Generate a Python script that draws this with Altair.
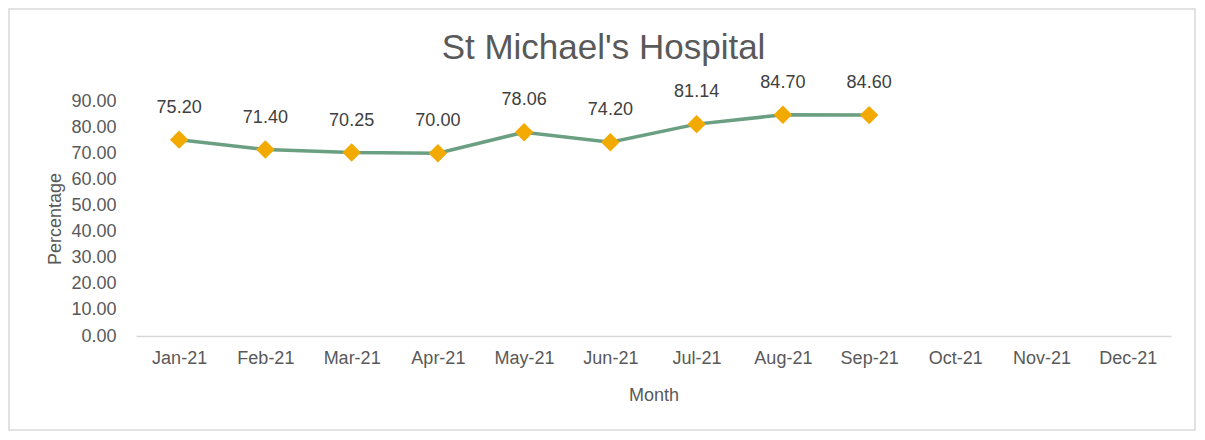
import altair as alt
import pandas as pd

months = ["Jan-21", "Feb-21", "Mar-21", "Apr-21", "May-21", "Jun-21",
          "Jul-21", "Aug-21", "Sep-21", "Oct-21", "Nov-21", "Dec-21"]
observed_months = months[:9]
values = [75.20, 71.40, 70.25, 70.00, 78.06, 74.20, 81.14, 84.70, 84.60]
y_ticks = [0, 10, 20, 30, 40, 50, 60, 70, 80, 90]

df = pd.DataFrame({"Month": observed_months, "Percentage": values})

FONT = "Liberation Sans"
FS = 18
W, H = 1035, 235

x_enc = alt.X("Month:N", sort=months,
              scale=alt.Scale(type="point", domain=months, padding=0.5),
              axis=alt.Axis(title="Month", labelAngle=0, ticks=False, grid=False,
                            domain=True, domainColor="#d9d9d9", domainWidth=1.5,
                            labelPadding=13, labelFont=FONT, labelFontSize=FS,
                            labelColor="#595959", titleFont=FONT, titleFontSize=FS,
                            titleColor="#595959", titleFontWeight="normal",
                            titleY=59, titleBaseline="middle"))
y_enc = alt.Y("Percentage:Q",
              scale=alt.Scale(domain=[0, 90], nice=False, zero=True),
              axis=alt.Axis(title="Percentage", values=y_ticks, format=".2f",
                            ticks=False, grid=False, domain=False, labelPadding=20,
                            labelFont=FONT, labelFontSize=FS, labelColor="#595959",
                            titleFont=FONT, titleFontSize=FS, titleColor="#595959",
                            titleFontWeight="normal", titleX=-81, titleY=H / 2,
                            titleAngle=270, titleAlign="center", titleBaseline="middle"))

base = alt.Chart(df).encode(x=x_enc, y=y_enc)

line = base.mark_line(color="#6a9f82", strokeWidth=3.5)
points = base.mark_point(shape="diamond", filled=True, size=340, color="#f2a900", opacity=1)
labels = base.mark_text(dy=-32, font=FONT, fontSize=FS, color="#404040",
                        baseline="middle").encode(text=alt.Text("Percentage:Q", format=".2f"))

border = alt.Chart(alt.Data(values=[{}])).mark_rect(
    fill=None, stroke="#d9d9d9", strokeWidth=1.5
).encode(x=alt.value(-127), x2=alt.value(1059), y=alt.value(-92), y2=alt.value(329))

chart = alt.layer(border, line, points, labels).properties(
    width=W, height=H,
    background="white",
    title=alt.TitleParams("St Michael's Hospital", font=FONT, fontSize=35,
                          color="#595959", fontWeight="normal", anchor="middle",
                          baseline="alphabetic", dx=-50, dy=86, offset=0),
    autosize=alt.AutoSizeParams(type="none"),
    padding={"left": 128, "top": 93, "right": 26, "bottom": 96},
).configure_view(stroke="transparent", strokeWidth=0)

chart.save("out.html", embed_options={"renderer": "svg", "actions": False})
